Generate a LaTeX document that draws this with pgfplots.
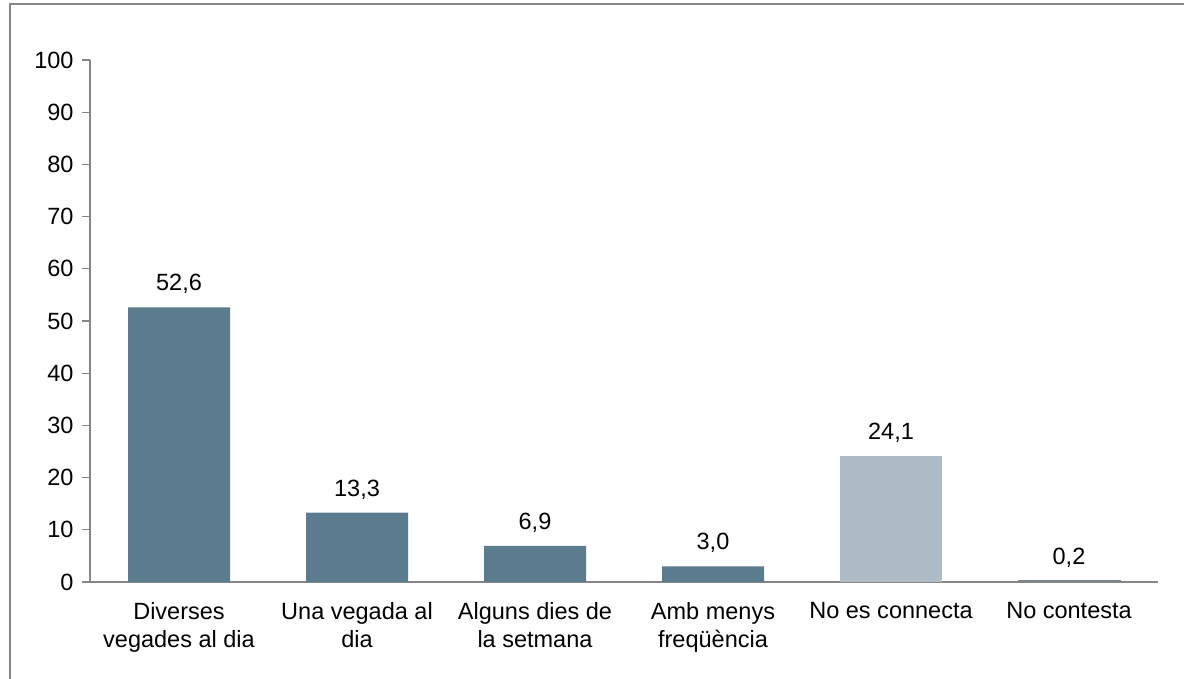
\documentclass[border=0pt]{standalone}
\usepackage{pgfplots}
\pgfplotsset{compat=1.18}
\usepackage{fontspec}
\setmainfont{Liberation Sans}
\definecolor{barDark}{RGB}{91,123,142}
\definecolor{barLight}{RGB}{173,188,198}
\definecolor{barGray}{RGB}{125,135,142}
\definecolor{axGray}{RGB}{134,134,134}
\begin{document}
\begin{tikzpicture}[x=1bp,y=1bp]
\path[use as bounding box] (0,0) rectangle (1184,679);
\draw[axGray, line width=1.5bp] (10,0) -- (10,675) -- (1184,675);
\begin{axis}[
  at={(90bp,97bp)}, anchor=south west,
  scale only axis,
  width=1068bp, height=522bp,
  xmin=-0.5, xmax=5.5, ymin=0, ymax=100,
  axis x line*=bottom, axis y line*=left,
  axis line style={axGray, line width=1.2bp},
  ytick={0,10,...,100},
  tick align=outside,
  major tick length=8bp,
  tick style={axGray, line width=1.2bp},
  xtick={0,1,2,3,4,5},
  xticklabels={{Diverses\\vegades al dia},{Una vegada al\\dia},{Alguns dies de\\la setmana},{Amb menys\\freqüència},{No es connecta},{No contesta}},
  x tick style={draw=none},
  extra x ticks={-0.5,0.5,1.5,2.5,3.5,4.5,5.5},
  extra x tick labels={},
  extra x tick style={tick style={axGray, line width=1.2bp}, major tick length=8bp},
  xticklabel style={font=\fontsize{23.5bp}{27.5bp}\selectfont, align=center, anchor=north, yshift=-9bp},
  yticklabel style={font=\fontsize{23.5bp}{27.5bp}\selectfont, xshift=-5bp},
  /pgf/number format/assume math mode=true,
  ybar, bar width=102bp,
  nodes near coords={\pgfmathprintnumber[fixed,fixed zerofill,precision=1,use comma,assume math mode=true]{\pgfplotspointmeta}},
  nodes near coords style={font=\fontsize{23.5bp}{26bp}\selectfont, anchor=south, yshift=10bp},
  clip=false,
]
\addplot[fill=barDark, draw=none, bar shift=0pt] coordinates {(0,52.6) (1,13.3) (2,6.9) (3,3.0)};
\addplot[fill=barLight, draw=none, bar shift=0pt] coordinates {(4,24.1)};
\addplot[fill=barGray, draw=barGray, line width=1bp, bar shift=0pt] coordinates {(5,0.2)};
\end{axis}
\end{tikzpicture}
\end{document}
